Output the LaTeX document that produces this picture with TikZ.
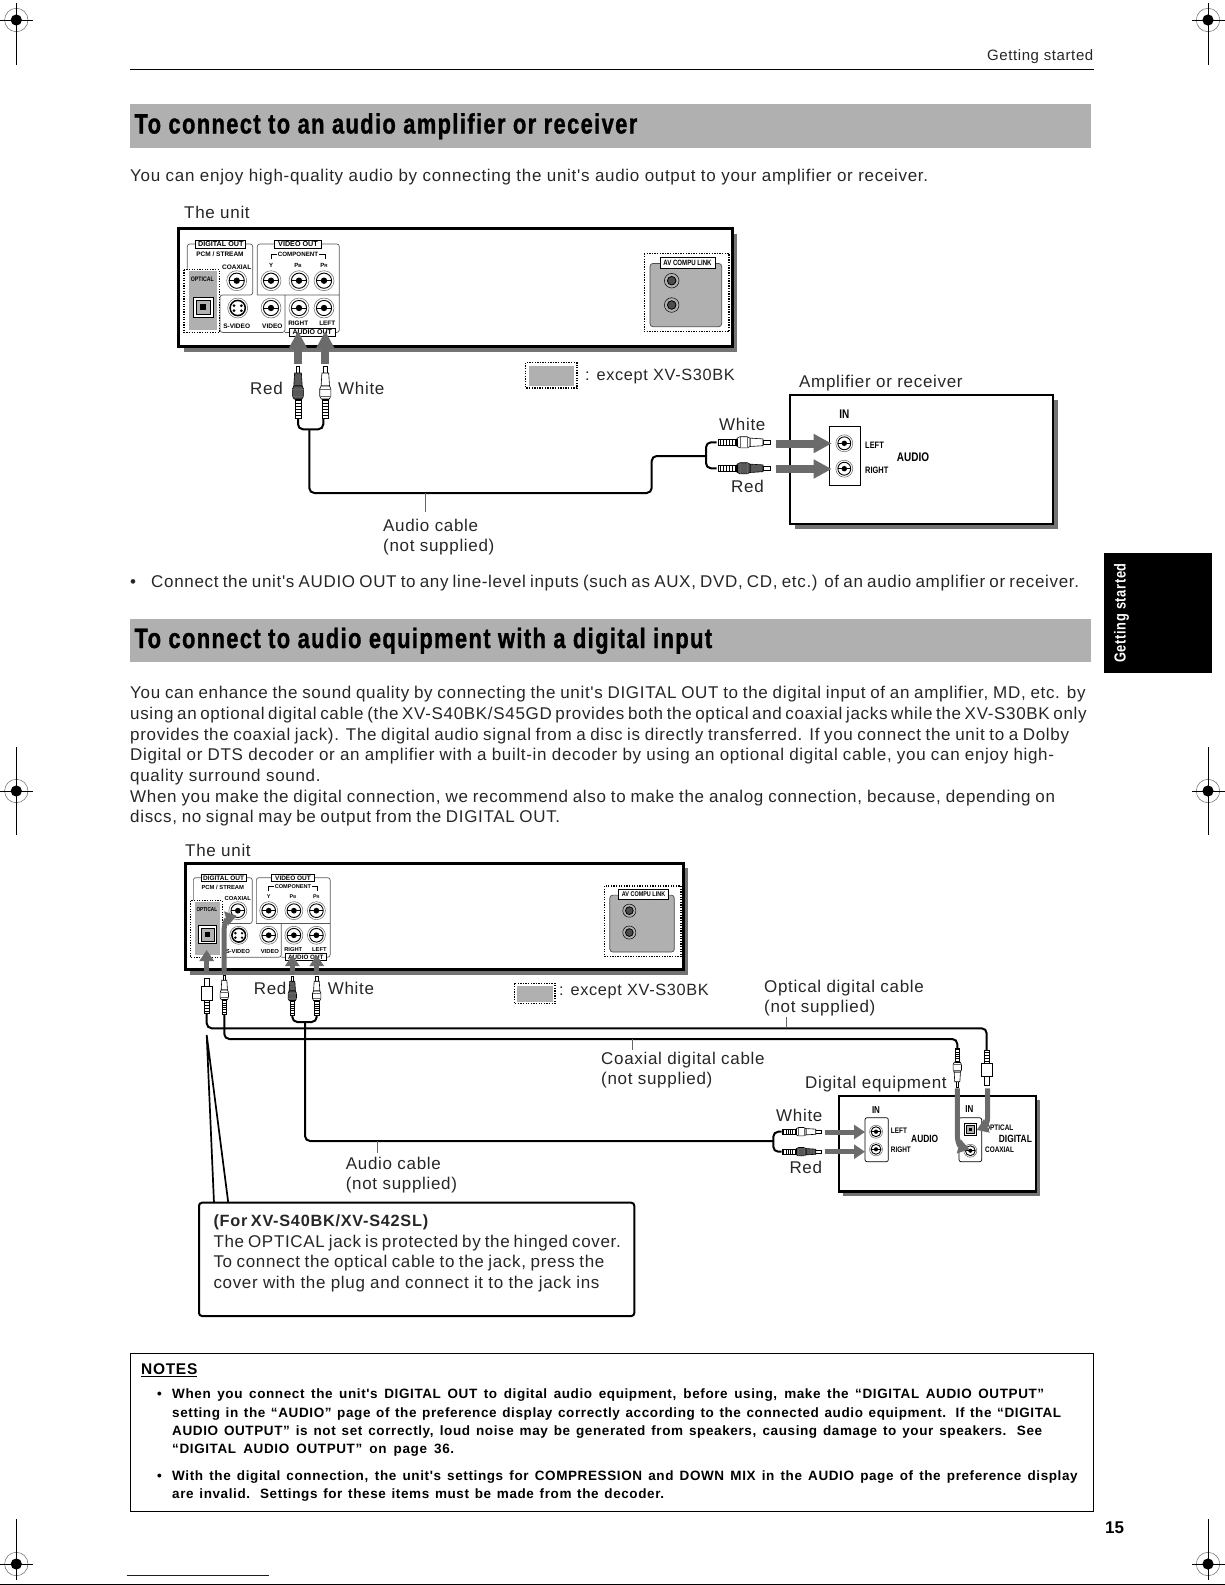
\documentclass[tikz,border=0pt]{standalone}
\usepackage{fontspec}
\usepackage{tikz}
\usetikzlibrary{arrows.meta}

\newfontfamily\bodyfont[LetterSpace=4]{Liberation Sans}
\newfontfamily\boldfont[LetterSpace=4.5,UprightFont=* Bold]{Liberation Sans}
\newfontfamily\condfont[FakeStretch=0.8,UprightFont=* Bold]{Liberation Sans}
\newfontfamily\tabfont[FakeStretch=0.8,LetterSpace=4,UprightFont=* Bold]{Liberation Sans}
\newfontfamily\headfont[FakeStretch=0.78,LetterSpace=5,FakeBold=1.2,UprightFont=* Bold]{Liberation Sans}
\newfontfamily\plainbold[UprightFont=* Bold]{Liberation Sans}

\newcommand{\fitline}[2]{\makebox[#1pt][s]{#2}}

\tikzset{
    bodyline/.style={anchor=west, inner sep=0pt, text=black!85, text height=14pt, text depth=1.5pt,
        font=\bodyfont\fontsize{17}{19}\selectfont},
    legendline/.style={bodyline, font=\bodyfont\fontsize{16.3}{18}\selectfont},
    noteline/.style={anchor=west, inner sep=0pt, text height=11.5pt, text depth=1.5pt,
        font=\boldfont\fontsize{13.5}{15}\selectfont},
    calloutbold/.style={bodyline, font=\boldfont\fontsize{16.3}{18}\selectfont},
    headline/.style={anchor=west, inner sep=0pt, text height=22pt, text depth=4pt,
        font=\headfont\fontsize{28}{30}\selectfont},
    condlabel/.style={inner sep=0pt, font=\condfont\fontsize{#1}{#1}\selectfont},
    panellabel/.style={inner sep=0pt, font=\plainbold\fontsize{#1}{#1}\selectfont},
    framelabel/.style={draw, line width=0.8pt, fill=white, minimum height=8pt, text depth=0pt, panellabel=7.2},
    dottedbox/.style={draw, line width=1.3pt, dash pattern=on 1.3pt off 1.3pt},
    cable/.style={line width=2pt, rounded corners=5pt},
    tickline/.style={black!60, line width=1pt},
    feed/.style={draw=black!58, line width=8pt, -{Triangle[length=18pt,width=18pt,fill=black!58]}},
    feedsmall/.style={draw=black!58, line width=5pt, -{Triangle[length=11pt,width=14pt,fill=black!58]}},
}

% phono socket seen from the front
\newcommand{\jack}[2]{
    \begin{scope}[shift={(#1)}]
        \draw[black!60, line width=0.5pt, fill=white] (0,0) circle (#2);
        \draw[line width=0.9pt] (0,0) circle ({0.76*#2});
        \draw[line width=0.9pt] ({-0.76*#2},0) -- ({0.76*#2},0);
        \fill (0,0) circle ({0.32*#2});
    \end{scope}
}
% optical socket
\newcommand{\optjack}[2]{
    \begin{scope}[shift={(#1)}]
        \draw[line width=0.8pt, fill=white] ({-0.5*#2},{-0.5*#2}) rectangle ({0.5*#2},{0.5*#2});
        \draw[line width=0.8pt, fill=black!30] ({-0.36*#2},{-0.36*#2}) rectangle ({0.36*#2},{0.36*#2});
        \fill ({-0.15*#2},{-0.15*#2}) rectangle ({0.15*#2},{0.15*#2});
    \end{scope}
}
% phono plug: #1 tip of pin, #2 rotation, #3 scale, #4 body colour
\newcommand{\phonoplug}[4]{
    \begin{scope}[shift={(#1)}, rotate=#2, scale=#3, line width=0.6pt]
        \draw[fill=white] (-1.7,0) rectangle (1.7,7);
        \draw[fill=#4] (-3.4,7) -- (3.4,7) -- (4.2,20) -- (-4.2,20) -- cycle;
        \draw[fill=#4] (-4.2,20) -- (4.2,20) -- (5.6,23) -- (5.6,30) -- (4,33) -- (-4,33) -- (-5.6,30) -- (-5.6,23) -- cycle;
        \draw[black!60, line width=0.5pt] (-5.6,23) -- (5.6,23) (-5.6,30) -- (5.6,30);
        \draw[fill=white] (-2.8,33) rectangle (2.8,52);
        \fill[black] (-2.8,33) rectangle (2.8,35);
        \foreach \s in {37.5,40.5,43.5,46.5,49.5} {
            \draw[line width=1pt] (-2.8,\s) -- (2.8,\s);
        }
    \end{scope}
}
% optical plug: #1 tip of pin, #2 rotation
\newcommand{\opticalplug}[2]{
    \begin{scope}[shift={(#1)}, rotate=#2, line width=0.8pt]
        \draw[fill=white] (-2.2,0) rectangle (2.2,8.3);
        \draw[fill=white] (-5.6,8.3) rectangle (5.6,21.7);
        \draw[fill=white, line width=0.6pt] (-2.7,21.7) rectangle (2.7,35);
        \foreach \s in {24,27,30,33} {
            \draw[line width=1pt] (-2.7,\s) -- (2.7,\s);
        }
    \end{scope}
}
% centre mark at the page edge: #1 centre, #2 and #3 ends of the upright line
\newcommand{\regmark}[3]{
    \begin{scope}[shift={(#1)}]
        \draw[black!60, line width=0.5pt] (0,0) circle (11.7);
        \fill (0,0) circle (5.6);
        \draw[line width=0.8pt] (-16.5,0) -- (16.5,0);
        \draw[line width=0.8pt] (0,#2) -- (0,#3);
    \end{scope}
}
% the rear panel of the unit
\newcommand{\unitpanel}{
    \fill[black!55] (13.5,33) rectangle (567,151);
    \draw[line width=3pt, fill=white] (8.5,28) rectangle (562,145.5);
    % sockets groups
    \draw[black!65, line width=0.7pt, rounded corners=2.5pt]
        (17.3,68) -- (17.3,43.3) -- (82.7,43.3) -- (82.7,94.3) -- (50,94.3) -- (50,131.7) -- (115,131.7) -- (115,94.3)
        (87.3,94.3) -- (87.3,43.3) -- (169.3,43.3) -- (169.3,131.7) -- (115,131.7)
        (87.3,94.3) -- (169.3,94.3);
    \fill[black!31] (19.3,70.7) rectangle (46.7,129.3);
    \draw[dottedbox] (14,69) rectangle (49.3,131.7);
    \node[framelabel, minimum width=50pt] (digitalout) at (50.8,43.6) {DIGITAL OUT};
    \node[framelabel, minimum width=47pt] (videoout) at (128,43.6) {VIDEO OUT};
    \node[panellabel=6.5] (stream) at (50,54) {PCM / STREAM};
    \node[panellabel=6.5] (coaxial) at (66.7,66.7) {COAXIAL};
    \node[panellabel=6.2] (component) at (128,53.3) {COMPONENT};
    \draw[line width=0.7pt] (101,58) -- (101,53.3) -- (107,53.3) (149,53.3) -- (155,53.3) -- (155,58);
    \node[panellabel=6] (ylabel) at (101,64.3) {Y};
    \node[panellabel=6] (pblabel) at (128,64.3) {P\fontsize{4.5}{5}\selectfont B};
    \node[panellabel=6] (prlabel) at (154,64.3) {P\fontsize{4.5}{5}\selectfont R};
    \node[condlabel=6.5] (opticallabel) at (32.3,78.3) {OPTICAL};
    \node[panellabel=6.5] (svideo) at (66.7,125.3) {S-VIDEO};
    \node[panellabel=6.5] (videolabel) at (102.3,125.3) {VIDEO};
    \node[panellabel=6.4] (rightlabel) at (128.3,122.7) {RIGHT};
    \node[panellabel=6.4] (leftlabel) at (157.3,122.7) {LEFT};
    \node[framelabel, minimum width=45.6pt, panellabel=7] (audioout) at (142.2,131.7) {AUDIO OUT};
    \jack{66.7,80}{10}
    \jack{101,80}{10}
    \jack{129,80}{10}
    \jack{154,80}{10}
    \jack{101,107.3}{10}
    \jack{129,107.3}{10}
    \jack{154,107.3}{10}
    \optjack{33.3,106.7}{20}
    % S-video socket
    \draw[black!60, line width=0.5pt, fill=white] (67.7,107.3) circle (10);
    \draw[line width=1.5pt] (67.7,107.3) circle (7.6);
    \fill (64,105) circle (1.5) (71.4,105) circle (1.5) (64,110) circle (1.5) (71.4,110) circle (1.5);
    % link sockets
    \draw[dottedbox] (474.3,52.7) rectangle (559,131);
    \draw[black!70, line width=0.7pt, fill=black!31, rounded corners=3pt] (480,62.7) rectangle (551.7,126);
    \node[draw, fill=white, line width=0.8pt, minimum width=55pt, minimum height=10.5pt, condlabel=7.6] (avlink) at (517.5,62) {AV COMPU LINK};
    \draw[line width=0.5pt, fill=black!31] (501.7,80) circle (7.3);
    \draw[line width=0.8pt, fill=black!70] (501.7,80) circle (4.3);
    \draw[line width=0.5pt, fill=black!31] (501.7,104.3) circle (7.3);
    \draw[line width=0.8pt, fill=black!70] (501.7,104.3) circle (4.3);
}

\begin{document}
\begin{tikzpicture}[x=1pt, y=-1pt, >=latex]
    \useasboundingbox (0,0) rectangle (1225,1585);

    % 1. Page furniture
    \regmark{16.3,20}{-17}{45}
    \regmark{1208,20}{-17}{45}
    \regmark{16.3,791}{-44}{44}
    \regmark{1208,791}{-44}{44}
    \regmark{16.3,1564}{-45}{16}
    \regmark{1208,1564}{-45}{16}
    \draw[line width=1pt] (130,69.5) -- (1093.5,69.5);
    \node[anchor=east, inner sep=0pt, text=black!85, font=\bodyfont\fontsize{15}{16}\selectfont] (pagehead) at (1093.5,56.5) {Getting started};
    \fill (1104,553.3) rectangle (1212,672.7);
    \node[rotate=90, inner sep=0pt, text=white, font=\tabfont\fontsize{16}{18}\selectfont] (tablabel) at (1121.5,613) {Getting started};
    \node[anchor=west, inner sep=0pt, font=\plainbold\fontsize{17}{19}\selectfont] (pagenum) at (1105,1527.5) {15};
    \draw[blue, line width=1pt] (127,1575.5) -- (268.7,1575.5);
    \draw[line width=1pt] (0,1584.3) -- (1225,1584.3);

    % 2. First section
    \fill[black!31] (130,104) rectangle (1090.5,147.6);
    \node[headline] (firsthead) at (134.4,124.5) {To connect to an audio amplifier or receiver};
    \node[bodyline] (firsttext) at (130,175) {\fitline{798}{You can enjoy high-quality audio by connecting the unit's audio output to your amplifier or receiver.}};

    % 2a. Unit
    \node[bodyline] (unitone) at (184,212) {The unit};
    \begin{scope}[shift={(170,200.7)}, name prefix=one-]
        \unitpanel
    \end{scope}

    % legend
    \fill[black!31] (529,365.5) rectangle (574,385.5);
    \draw[dottedbox] (525.7,362.7) rectangle (577,388);
    \node[legendline] (legendone) at (585,374.5) {: except XV-S30BK};

    % 2b. Amplifier
    \node[bodyline] (ampname) at (799,381.7) {Amplifier or receiver};
    \fill[black!55] (795,400) rectangle (1058,529);
    \draw[line width=2.5pt, fill=white] (790,395) rectangle (1053,524);
    \node[condlabel=12.5] (ampin) at (844.3,414) {IN};
    \draw[line width=0.8pt] (829,426.7) rectangle (860.7,485);
    \jack{844.3,443.3}{8.5}
    \jack{844.3,468.7}{8.5}
    \node[condlabel=9.3, anchor=west] (ampleft) at (865,445.7) {LEFT};
    \node[condlabel=9.3, anchor=west] (ampright) at (865,470) {RIGHT};
    \node[condlabel=12.5, anchor=west] (ampaudio) at (896.7,457) {AUDIO};

    % 2c. Audio cable
    \coordinate (redtip) at (298,366);
    \coordinate (whitetip) at (325.3,366);
    \coordinate (redtail) at (298,418);
    \coordinate (whitetail) at (323.3,418);
    \coordinate (forkone) at (309.3,429.3);
    \coordinate (runone) at (309.3,493);
    \coordinate (riseone) at (651.7,493);
    \coordinate (risetop) at (651.7,456);
    \coordinate (forktwo) at (706,456);
    \coordinate (ampwhiteend) at (716.7,442.3);
    \coordinate (ampredend) at (716.7,468.3);
    \coordinate (ampwhitetip) at (770,442.3);
    \coordinate (ampredtip) at (770,468.3);
    \draw[cable] (redtail) -- (redtail |- forkone) -- (whitetail |- forkone) -- (whitetail);
    \draw[cable] (forkone) -- (runone) -- (riseone) -- (risetop) -- (forktwo);
    \draw[cable] (ampwhiteend) -- (forktwo |- ampwhiteend) -- (forktwo |- ampredend) -- (ampredend);
    \phonoplug{redtip}{0}{1}{black!65}
    \phonoplug{whitetip}{0}{1}{white}
    \phonoplug{ampwhitetip}{-90}{1}{white}
    \phonoplug{ampredtip}{-90}{1}{black!65}

    % 2d. Gray arrows
    \coordinate (redsock) at (298,331);
    \coordinate (whitesock) at (325.3,331);
    \coordinate (ampwhitefrom) at (775.7,443.5);
    \coordinate (ampredfrom) at (775.7,469);
    \coordinate (ampwhitein) at (831.7,443.5);
    \coordinate (ampredin) at (831.7,469);
    \draw[feed] (298,364) -- (redsock);
    \draw[feed] (325.3,364) -- (whitesock);
    \draw[feed] (ampwhitefrom) -- (ampwhitein);
    \draw[feed] (ampredfrom) -- (ampredin);

    % 2e. Labels
    \node[bodyline] (redone) at (250,388) {Red};
    \node[bodyline] (whiteone) at (338,388) {White};
    \node[bodyline] (whitetwo) at (719,424) {White};
    \node[bodyline] (redtwo) at (731,486) {Red};
    \coordinate (cableonetick) at (425,493);
    \draw[tickline] (cableonetick) -- (425,512);
    \node[bodyline] (cableone) at (383,525) {Audio cable};
    \node[bodyline] (cableonenote) at (383,545) {(not supplied)};
    \node[bodyline] (bulletone) at (130,581) {\textbullet};
    \node[bodyline] (bullettext) at (151,581) {\fitline{928}{Connect the unit's AUDIO OUT to any line-level inputs (such as AUX, DVD, CD, etc.) of an audio amplifier or receiver.}};

    % 3. Second section
    \fill[black!31] (130,618.5) rectangle (1090.5,662);
    \node[headline] (secondhead) at (134.4,639) {To connect to audio equipment with a digital input};
    \node[bodyline] (paraa) at (130,692.3) {\fitline{955.5}{You can enhance the sound quality by connecting the unit's DIGITAL OUT to the digital input of an amplifier, MD, etc. by}};
    \node[bodyline] (parab) at (130,713.5) {\fitline{955.5}{using an optional digital cable (the XV-S40BK/S45GD provides both the optical and coaxial jacks while the XV-S30BK only}};
    \node[bodyline] (parac) at (130,734) {\fitline{939}{provides the coaxial jack). The digital audio signal from a disc is directly transferred. If you connect the unit to a Dolby}};
    \node[bodyline] (parad) at (130,754) {\fitline{924}{Digital or DTS decoder or an amplifier with a built-in decoder by using an optional digital cable, you can enjoy high-}};
    \node[bodyline] (parae) at (130,775.2) {\fitline{190.4}{quality surround sound.}};
    \node[bodyline] (paraf) at (130,796.4) {\fitline{925}{When you make the digital connection, we recommend also to make the analog connection, because, depending on}};
    \node[bodyline] (parag) at (130,816.6) {\fitline{430}{discs, no signal may be output from the DIGITAL OUT.}};

    % 3a. Unit
    \node[bodyline] (unittwo) at (185,850) {The unit};
    \begin{scope}[shift={(177.8,838.67)}, scale=0.9, transform shape, name prefix=two-]
        \unitpanel
    \end{scope}

    % legend
    \fill[black!31] (517,985.5) rectangle (552.5,1001.5);
    \draw[dottedbox] (514.5,983.4) rectangle (555,1003.6);
    \node[legendline] (legendtwo) at (559,989.5) {: except XV-S30BK};

    % 3b. Digital equipment
    \node[bodyline] (digitalname) at (805,1082) {Digital equipment};
    \fill[black!55] (843,1100) rectangle (1040,1195.5);
    \draw[line width=2.5pt, fill=white] (839,1096) rectangle (1036,1191.7);
    \node[condlabel=10] (audioin) at (876,1110) {IN};
    \draw[line width=0.7pt, rounded corners=2pt] (865,1117.7) rectangle (888.3,1161.7);
    \jack{876,1131.7}{6.5}
    \jack{876,1149.3}{6.5}
    \node[condlabel=8, anchor=west] (digleft) at (890.7,1130.7) {LEFT};
    \node[condlabel=8, anchor=west] (digright) at (890.7,1150) {RIGHT};
    \node[condlabel=10.5, anchor=west] (digaudio) at (911,1139) {AUDIO};
    \node[condlabel=10] (digitalin) at (969.3,1109.3) {IN};
    \draw[line width=0.7pt, rounded corners=2pt] (959,1117.7) rectangle (981.7,1161.7);
    \optjack{970.3,1129.3}{12}
    \jack{970.3,1150.7}{6.5}
    \node[condlabel=8, anchor=west] (digoptical) at (985,1128) {OPTICAL};
    \node[condlabel=8, anchor=west] (digcoaxial) at (985,1150) {COAXIAL};
    \node[condlabel=10.5, anchor=west] (digdigital) at (998.7,1139) {DIGITAL};

    % 3c. Cables
    \coordinate (opttop) at (206.7,978.3);
    \coordinate (opttail) at (206.7,1013.3);
    \coordinate (optrun) at (206.7,1028.3);
    \coordinate (optend) at (986.7,1050);
    \coordinate (optendtip) at (986.7,1085);
    \coordinate (coaxtop) at (224.3,975);
    \coordinate (coaxtail) at (224.3,1014);
    \coordinate (coaxrun) at (224.3,1039);
    \coordinate (coaxend) at (957.3,1048);
    \coordinate (coaxendtip) at (957.3,1087);
    \coordinate (redtop) at (292.3,976);
    \coordinate (whitetop) at (316.7,976);
    \coordinate (forkthree) at (305,1022);
    \coordinate (runtwo) at (305,1141);
    \coordinate (forkfour) at (773.3,1141);
    \coordinate (digwhiteend) at (781.7,1131.7);
    \coordinate (digredend) at (781.7,1151.7);
    \coordinate (digwhitetip) at (821,1131.7);
    \coordinate (digredtip) at (821,1151.7);
    \draw[cable] (opttail) -- (optrun) -- (optend |- optrun) -- (optend);
    \draw[cable] (coaxtail) -- (coaxrun) -- (coaxend |- coaxrun) -- (coaxend);
    \draw[cable] (292.3,1014) -- (292.3,1022) -- (316.7,1022) -- (316.7,1014);
    \draw[cable] (forkthree) -- (runtwo) -- (forkfour);
    \draw[cable] (digwhiteend) -- (forkfour |- digwhiteend) -- (forkfour |- digredend) -- (digredend);
    \opticalplug{opttop}{0}
    \phonoplug{coaxtop}{0}{0.75}{white}
    \phonoplug{redtop}{0}{0.75}{black!65}
    \phonoplug{whitetop}{0}{0.75}{white}
    \opticalplug{optendtip}{180}
    \phonoplug{coaxendtip}{180}{0.75}{white}
    \phonoplug{digwhitetip}{-90}{0.75}{white}
    \phonoplug{digredtip}{-90}{0.75}{black!65}

    % 3d. Gray arrows
    \draw[feedsmall] (206.7,972.7) -- (206.7,950);
    \draw[feedsmall] (224,972.7) -- (224,932) .. controls (224,922) and (228,918) .. (236.7,915.7);
    \draw[feedsmall] (292.3,975) -- (292.3,955);
    \draw[feedsmall] (316.7,975) -- (316.7,955);
    \draw[feedsmall] (825,1132) -- (865,1132);
    \draw[feedsmall] (825,1151.7) -- (865,1151.7);
    \draw[feedsmall] (957.3,1088.3) -- (957.3,1136) .. controls (957.3,1143) and (961,1147) .. (969.3,1149.3);
    \draw[feedsmall] (987.7,1088.3) -- (987.7,1116) .. controls (987.7,1124) and (984,1127) .. (976.7,1130);

    % 3e. Labels
    \node[bodyline] (redthree) at (253.7,988) {Red};
    \node[bodyline] (whitethree) at (327.7,988) {White};
    \node[bodyline] (whitefour) at (776,1115) {White};
    \node[bodyline] (redfour) at (789.3,1167) {Red};
    \node[bodyline] (optname) at (764,986.5) {Optical digital cable};
    \node[bodyline] (optnote) at (764,1006.7) {(not supplied)};
    \draw[tickline] (786.3,1017) -- (786.3,1028);
    \node[bodyline] (coaxname) at (601,1058.3) {Coaxial digital cable};
    \node[bodyline] (coaxnote) at (601,1078.7) {(not supplied)};
    \draw[tickline] (632,1039) -- (632,1050);
    \node[bodyline] (audioname) at (345.7,1163.3) {Audio cable};
    \node[bodyline] (audionote) at (345.7,1183.3) {(not supplied)};
    \draw[tickline] (377,1141) -- (377,1152.7);

    % 3f. Callout of the hinged cover
    \coordinate (apex) at (206.7,1035);
    \draw[line width=2pt, rounded corners=3pt, fill=white] (199,1202.7) rectangle (634.3,1316);
    \draw[line width=1.7pt] (214,1203) -- (apex) -- (228.3,1203);
    \node[calloutbold] (callouthead) at (213.3,1220) {\fitline{210}{(For XV-S40BK/XV-S42SL)}};
    \node[bodyline] (callouta) at (213.3,1241) {\fitline{407.4}{The OPTICAL jack is protected by the hinged cover.}};
    \node[bodyline] (calloutb) at (213.3,1261.7) {\fitline{391}{To connect the optical cable to the jack, press the}};
    \node[bodyline] (calloutc) at (213.3,1282.7) {\fitline{386}{cover with the plug and connect it to the jack ins}};

    % 4. Notes
    \draw[line width=1pt] (130.3,1353) rectangle (1093.6,1511.3);
    \node[anchor=west, inner sep=0pt, font=\boldfont\fontsize{15.5}{17}\selectfont] (noteshead) at (141,1370) {\underline{NOTES}};
    \node[noteline] (bulleta) at (157,1393) {\textbullet};
    \node[noteline] (notea) at (172,1393) {\fitline{872}{When you connect the unit's DIGITAL OUT to digital audio equipment, before using, make the “DIGITAL AUDIO OUTPUT”}};
    \node[noteline] (noteb) at (172,1412) {\fitline{889}{setting in the “AUDIO” page of the preference display correctly according to the connected audio equipment. If the “DIGITAL}};
    \node[noteline] (notec) at (172,1430.5) {\fitline{870}{AUDIO OUTPUT” is not set correctly, loud noise may be generated from speakers, causing damage to your speakers.  See}};
    \node[noteline] (noted) at (172,1448.5) {\fitline{282}{“DIGITAL AUDIO OUTPUT” on page 36.}};
    \node[noteline] (bulletb) at (157,1475) {\textbullet};
    \node[noteline] (notee) at (172,1475) {\fitline{905.5}{With the digital connection, the unit's settings for COMPRESSION and DOWN MIX in the AUDIO page of the preference display}};
    \node[noteline] (notef) at (172,1493) {\fitline{492}{are invalid. Settings for these items must be made from the decoder.}};
\end{tikzpicture}
\end{document}
